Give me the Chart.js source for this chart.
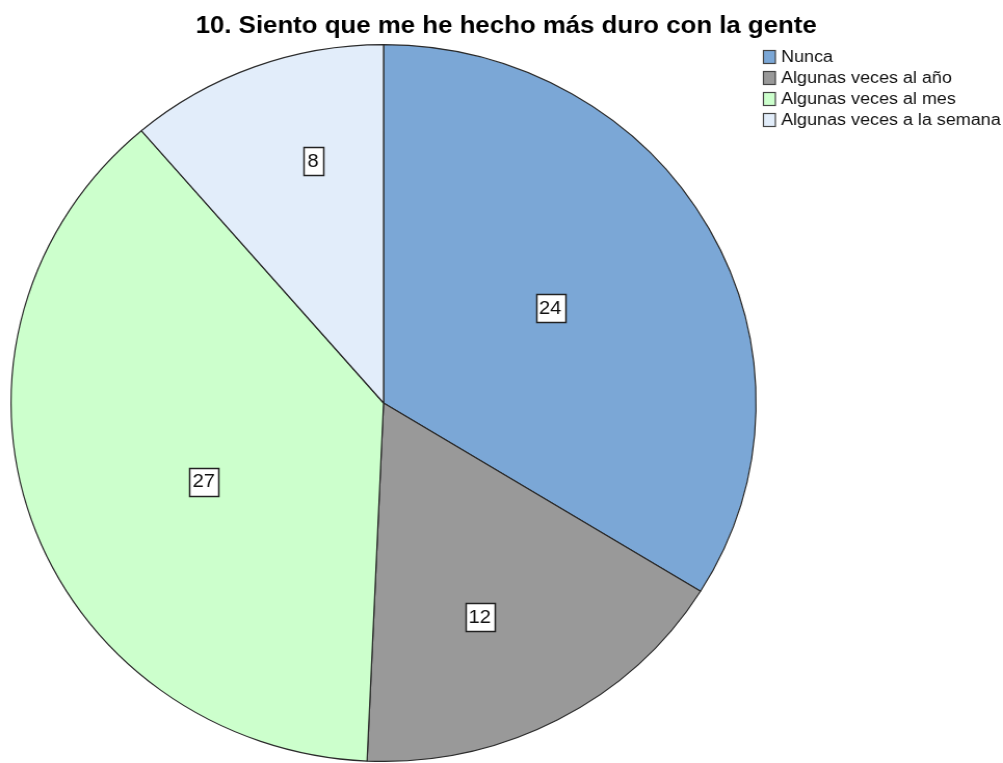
<!DOCTYPE html>
<html>
<head>
<meta charset="utf-8">
<script src="https://cdn.jsdelivr.net/npm/chart.js@4.4.1/dist/chart.umd.min.js"></script>
<style>
    html, body { margin: 0; padding: 0; background: #fff; overflow: hidden; }
    /* the exported figure is a little wider than tall, so stretch the drawing */
    #wrap { width: 965px; height: 763px; transform: scaleX(1.0394); transform-origin: 0 0; }
</style>
</head>
<body>
<div id="wrap"><canvas id="pie" width="965" height="763"></canvas></div>
<script>
const titleText = '10. Siento que me he hecho más duro con la gente';
const categories = ['Nunca', 'Algunas veces al año', 'Algunas veces al mes', 'Algunas veces a la semana'];
const counts = [24, 12, 27, 8];
const sliceColors = ['#7ba7d6', '#999999', '#ccffcc', '#e2edfa'];

const FONT = 'Arial, "Liberation Sans", sans-serif';
const TEXT_WIDEN = 1.08;

function wideText(ctx, text, x, y) {
    ctx.save();
    ctx.translate(x, y);
    ctx.scale(TEXT_WIDEN, 1);
    ctx.fillText(text, 0, 0);
    ctx.restore();
}

// value boxes, title and legend drawn the way SPSS lays them out
const spssDecor = {
    id: 'spssDecor',
    afterDatasetsDraw(chart, args, opts) {
        const ctx = chart.ctx;
        const meta = chart.getDatasetMeta(0);
        const values = chart.data.datasets[0].data;
        ctx.save();
        ctx.font = '18px ' + FONT;
        ctx.textBaseline = 'middle';
        ctx.textAlign = 'center';
        meta.data.forEach((arc, i) => {
            const p = arc.getProps(['x', 'y', 'startAngle', 'endAngle', 'outerRadius'], true);
            // SPSS nudges the boxes a little off the slice middle
            const mid = (p.startAngle + p.endAngle) / 2 + opts.angleShift[i] * Math.PI / 180;
            const r = p.outerRadius * opts.labelRadius[i];
            const cx = p.x + Math.cos(mid) * r;
            const cy = p.y + Math.sin(mid) * r;
            const txt = String(values[i]);
            const w = Math.max(ctx.measureText(txt).width * TEXT_WIDEN + 6, 19);
            const h = 28;
            const bx = Math.round(cx - w / 2) + 0.5;
            const by = Math.round(cy - h / 2) + 0.5;
            ctx.fillStyle = '#ffffff';
            ctx.fillRect(bx, by, Math.round(w), h);
            ctx.strokeStyle = '#222';
            ctx.lineWidth = 1.5;
            ctx.strokeRect(bx, by, Math.round(w), h);
            ctx.fillStyle = '#111';
            wideText(ctx, txt, cx, cy + 1);
        });
        ctx.restore();
    },
    afterDraw(chart) {
        const ctx = chart.ctx;
        ctx.save();
        ctx.fillStyle = '#000';
        ctx.font = 'bold 23px ' + FONT;
        ctx.textAlign = 'center';
        ctx.textBaseline = 'alphabetic';
        wideText(ctx, titleText, 487, 33);

        ctx.font = '16px ' + FONT;
        ctx.textAlign = 'left';
        ctx.textBaseline = 'middle';
        const ds = chart.data.datasets[0];
        chart.data.labels.forEach((label, i) => {
            const y = 57 + i * 21;
            ctx.fillStyle = ds.backgroundColor[i];
            ctx.fillRect(734.5, y - 6.5, 11.5, 13);
            ctx.strokeStyle = '#444';
            ctx.lineWidth = 1.2;
            ctx.strokeRect(734.5, y - 6.5, 11.5, 13);
            ctx.fillStyle = '#111';
            wideText(ctx, label, 751.5, y + 1);
        });
        ctx.restore();
    }
};

new Chart(document.getElementById('pie'), {
    type: 'pie',
    data: {
        labels: categories,
        datasets: [{
            data: counts,
            backgroundColor: sliceColors,
            borderColor: '#2a2a2a',
            borderWidth: 1.2
        }]
    },
    options: {
        responsive: false,
        animation: false,
        devicePixelRatio: 1,
        layout: {
            padding: { top: 44, bottom: 1, left: 10, right: 237 }
        },
        plugins: {
            legend: { display: false },
            tooltip: { enabled: false },
            spssDecor: {
                labelRadius: [0.52, 0.65, 0.53, 0.70],
                angleShift: [-1.5, 4.5, -5.4, 4.6]
            }
        }
    },
    plugins: [spssDecor]
});
</script>
</body>
</html>
